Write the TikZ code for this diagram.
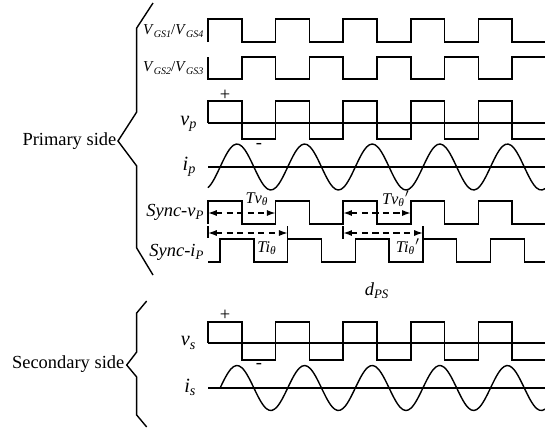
\documentclass[tikz,border=0pt]{standalone}
\usepackage{fontspec}
\setmainfont{Liberation Serif}
\usetikzlibrary{arrows.meta}
\newcommand{\lbl}[2]{\textit{#1}\textsubscript{\textit{#2}}}
\newcommand{\gatelbl}[2]{\textit{#1}\raisebox{-0.35ex}{\fontsize{5.7}{7}\selectfont\textit{#2}}}

\begin{document}
\begin{tikzpicture}[x=0.02cm,y=-0.02cm,line width=0.8pt,
  every node/.style={inner sep=0pt,font=\fontsize{10.5}{12}\selectfont},
  big/.style={font=\fontsize{11.5}{13}\selectfont},
  small/.style={font=\fontsize{8.6}{10}\selectfont},
  mid/.style={font=\fontsize{9.3}{11}\selectfont},
  dimline/.style={dash pattern=on 3.5pt off 2.5pt,{Latex[length=5pt,width=3.5pt]}-{Latex[length=5pt,width=3.5pt]}}]
\useasboundingbox (0,0) rectangle (545,430);
\clip (0,0) rectangle (545,430);
% braces
\draw (153,3) -- (136.7,28) -- (136.7,112) -- (118,141) -- (136.7,166) -- (136.7,248) -- (153,275);
\draw (146.7,301) -- (136.7,313) -- (136.7,352) -- (126.7,365) -- (136.7,377) -- (136.7,415) -- (146.7,427);
\node at (117,141)[left] (prim){Primary side};
\node at (125,364)[left] (sec){Secondary side};
% gate signals
\draw (208,42) -- (208,19) \foreach \k in {1,...,5} { -- ++(33.8,0) -- ++(0,23) -- ++(33.8,0) -- ++(0,-23) };
\draw (208,57) -- (208,79) \foreach \k in {1,...,5} { -- ++(33.8,0) -- ++(0,-22) -- ++(33.8,0) -- ++(0,22) };
\node[small] at (204,31)[left] (vgs14){\gatelbl{V}{GS1}/\gatelbl{V}{GS4}};
\node[small] at (204,68)[left] (vgs23){\gatelbl{V}{GS2}/\gatelbl{V}{GS3}};
% primary voltage and current
\draw (208,123) -- (545,123);
\draw (208,123) -- (208,101) \foreach \k in {1,...,5} { -- ++(33.8,0) -- ++(0,38) -- ++(33.8,0) -- ++(0,-38) };
\draw (208,167) -- (545,167);
\draw plot[domain=208:545,smooth,samples=120] (\x,{167-23*cos(5.3254*(\x-237))});
\node[big] at (198,124)[left] (vp){\lbl{v}{p}};
\node[big] at (197,167)[left] (ip){\lbl{i}{p}};
\node at (225,95) (pp){+};
\node at (259,146) (pm){-};
% sync signals
\draw (208,224) -- (208,201) \foreach \k in {1,...,5} { -- ++(33.8,0) -- ++(0,23) -- ++(33.8,0) -- ++(0,-23) };
\draw (208,262) -- (220.1,262) \foreach \k in {1,...,5} { -- ++(0,-23) -- ++(33.8,0) -- ++(0,23) -- ++(33.8,0) };
\draw (208,226) -- (208,238);
\draw (287.7,226) -- (287.7,239);
\draw (343.2,226) -- (343.2,239);
\draw (422.9,226) -- (422.9,239);
\coordinate (tva) at (208,213);
\coordinate (tvb) at (275.6,213);
\coordinate (tvc) at (343.2,213);
\coordinate (tvd) at (410.8,213);
\coordinate (tia) at (208,233);
\coordinate (tib) at (287.7,233);
\coordinate (tic) at (343.2,233);
\coordinate (tid) at (422.9,233);
\draw[dimline] (tva) -- (tvb);
\draw[dimline] (tvc) -- (tvd);
\draw[dimline] (tia) -- (tib);
\draw[dimline] (tic) -- (tid);
\node at (205,212)[left] (svp){\textit{Sync-}\lbl{v}{P}};
\node at (205,252)[left] (sip){\textit{Sync-}\lbl{i}{P}};
\node[mid] at (257,199) (tv1){\lbl{Tv}{θ}};
\node[mid] at (396,199) (tv2){\lbl{Tv}{θ}$'$};
\node[mid] at (267,248) (ti1){\lbl{Ti}{θ}};
\node[mid] at (408,247) (ti2){\lbl{Ti}{θ}$'$};
\node at (377,291) (dps){\lbl{d}{PS}};
% secondary voltage and current
\draw (208,343) -- (545,343);
\draw (208,343) -- (208,322) \foreach \k in {1,...,5} { -- ++(33.8,0) -- ++(0,38) -- ++(33.8,0) -- ++(0,-38) };
\draw (208,388) -- (545,388);
\draw plot[domain=220.1:545,smooth,samples=120] (\x,{388-22.5*cos(5.3254*(\x-237))});
\node[big] at (197,343)[left] (vs){\lbl{v}{s}};
\node[big] at (197,387)[left] (is){\lbl{i}{s}};
\node at (225,315) (sp){+};
\node at (259,366) (sm){-};
\end{tikzpicture}
\end{document}
